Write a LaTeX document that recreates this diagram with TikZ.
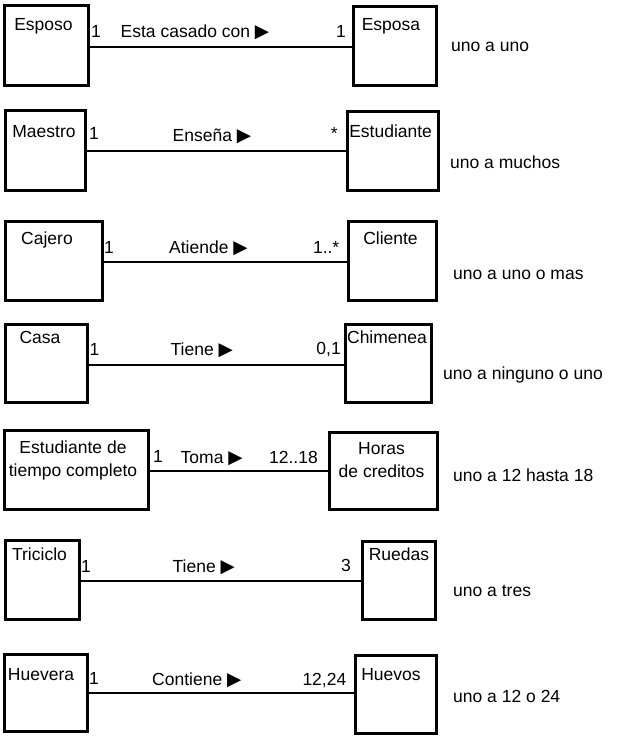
\documentclass[tikz,border=0pt]{standalone}
\usepackage{fontspec}
\setmainfont{Liberation Sans}
\newfontfamily\dvfont{DejaVu Sans}
\newcommand{\tri}{{\dvfont\fontsize{18.5}{18.5}\selectfont ▶}}
\begin{document}
\begin{tikzpicture}[x=1pt,y=-1pt, font=\fontsize{17.5}{23}\selectfont,
 cls/.style={draw, line width=2.6pt, inner sep=0pt, anchor=north west},
 assoc/.style={line width=1.9pt},
 nm/.style={inner sep=0pt, anchor=base},
 lw/.style={inner sep=0pt, anchor=base west},
 le/.style={inner sep=0pt, anchor=base east}]
\useasboundingbox (0,0) rectangle (616,739);

% Row 1
\node[cls, minimum width=84pt, minimum height=80pt] (esposo) at (3,4) {};
\node[cls, minimum width=83pt, minimum height=79pt] (esposa) at (352,5) {};
\node[nm] (esposoN) at (43.5,30) {Esposo};
\node[nm] (esposaN) at (391,30) {Esposa};
\coordinate (y1) at (0,47);
\draw[assoc] (esposo.east |- y1) -- (esposa.west |- y1);
\node[lw] (m1a) at (91,37) {1};
\node[lw] (r1) at (120.5,37) {Esta casado con \tri};
\node[le] (m1b) at (346,37) {1};
\node[lw] (t1) at (451,51) {uno a uno};

% Row 2
\node[cls, minimum width=80pt, minimum height=80pt] (maestro) at (4,109) {};
\node[cls, minimum width=91pt, minimum height=79pt] (estud) at (346,110) {};
\node[nm] (maestroN) at (44,137) {Maestro};
\node[nm] (estudN) at (390.6,137) {Estudiante};
\coordinate (y2) at (0,151);
\draw[assoc] (maestro.east |- y2) -- (estud.west |- y2);
\node[lw] (m2a) at (89,139) {1};
\node[lw] (r2) at (172.5,141) {Enseña \tri};
\node[le] (m2b) at (338,139) {*};
\node[lw] (t2) at (450,168.5) {uno a muchos};

% Row 3
\node[cls, minimum width=97pt, minimum height=79pt] (cajero) at (4,220) {};
\node[cls, minimum width=88pt, minimum height=79pt] (cliente) at (347,220) {};
\node[nm] (cajeroN) at (47,244) {Cajero};
\node[nm] (clienteN) at (390.5,244) {Cliente};
\coordinate (y3) at (0,262);
\draw[line width=2.6pt] (cajero.east |- y3) -- (cliente.west |- y3);
\node[lw] (m3a) at (104,253) {1};
\node[lw] (r3) at (169,253) {Atiende \tri};
\node[le] (m3b) at (339.5,253) {1..*};
\node[lw] (t3) at (453,279) {uno a uno o mas};

% Row 4
\node[cls, minimum width=82pt, minimum height=78pt] (casa) at (4,323) {};
\node[cls, minimum width=86pt, minimum height=78pt] (chim) at (344,323) {};
\node[nm] (casaN) at (40,343) {Casa};
\node[nm] (chimN) at (387,343) {Chimenea};
\coordinate (y4) at (0,365);
\draw[assoc] (casa.east |- y4) -- (chim.west |- y4);
\node[lw] (m4a) at (89.5,355) {1};
\node[lw] (r4) at (170.5,355) {Tiene \tri};
\node[le] (m4b) at (341,354) {0,1};
\node[lw] (t4) at (443,379.5) {uno a ninguno o uno};

% Row 5
\node[cls, minimum width=144pt, minimum height=79pt] (estc) at (3,429) {};
\node[cls, minimum width=108pt, minimum height=77pt] (horas) at (328,431) {};
\node[align=center, inner sep=0pt] (estcN) at (73,460) {Estudiante de\\tiempo completo};
\node[align=center, inner sep=0pt] (horasN) at (381.5,460.5) {Horas\\de creditos};
\coordinate (y5) at (0,471);
\draw[assoc] (estc.east |- y5) -- (horas.west |- y5);
\node[lw] (m5a) at (153,462) {1};
\node[lw] (r5) at (180.5,463) {Toma \tri};
\node[le] (m5b) at (318,463) {12..18};
\node[lw] (t5) at (453,481) {uno a 12 hasta 18};

% Row 6
\node[cls, minimum width=74pt, minimum height=79pt] (trici) at (4,539) {};
\node[cls, minimum width=73pt, minimum height=78pt] (ruedas) at (361,540) {};
\node[nm] (triciN) at (39.5,560) {Triciclo};
\node[nm] (ruedasN) at (399,560) {Ruedas};
\coordinate (y6) at (0,581);
\draw[assoc] (trici.east |- y6) -- (ruedas.west |- y6);
\node[lw] (m6a) at (81,572) {1};
\node[lw] (r6) at (172.5,572) {Tiene \tri};
\node[le] (m6b) at (351,571.5) {3};
\node[lw] (t6) at (453,596) {uno a tres};

% Row 7
\node[cls, minimum width=83pt, minimum height=77pt] (huevera) at (3,653) {};
\node[cls, minimum width=81pt, minimum height=78pt] (huevos) at (354,654) {};
\node[nm] (hueveraN) at (41,680) {Huevera};
\node[nm] (huevosN) at (391,680) {Huevos};
\coordinate (y7) at (0,693);
\draw[assoc] (huevera.east |- y7) -- (huevos.west |- y7);
\node[lw] (m7a) at (89,684) {1};
\node[lw] (r7) at (152,685) {Contiene \tri};
\node[le] (m7b) at (346.5,685) {12,24};
\node[lw] (t7) at (453,702) {uno a 12 o 24};
\end{tikzpicture}
\end{document}
